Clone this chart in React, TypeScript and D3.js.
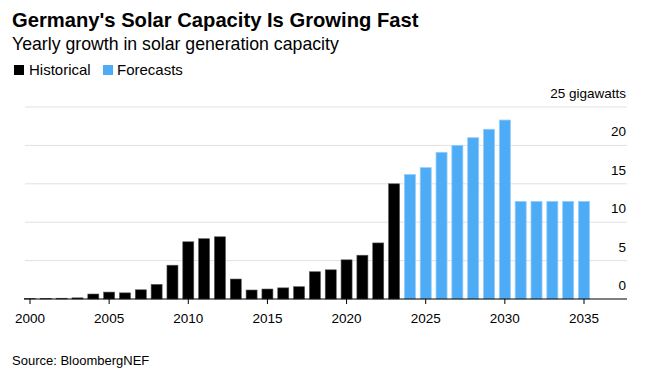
import React from "react";
import * as d3 from "d3";

const histYears = [2000,2001,2002,2003,2004,2005,2006,2007,2008,2009,2010,2011,2012,2013,2014,2015,2016,2017,2018,2019,2020,2021,2022,2023];
const histValues = [0.05,0.08,0.1,0.15,0.65,0.9,0.8,1.2,1.9,4.4,7.45,7.85,8.1,2.6,1.17,1.3,1.45,1.6,3.55,3.8,5.1,5.7,7.3,15.0];
const foreYears = [2024,2025,2026,2027,2028,2029,2030,2031,2032,2033,2034,2035];
const foreValues = [16.2,17.1,19.1,20.0,21.0,22.1,23.3,12.7,12.7,12.7,12.7,12.7];
const yTicks = [0,5,10,15,20,25];
const xTicks = [2000,2005,2010,2015,2020,2025,2030,2035];

const W = 654, H = 380;
const FONT = "'Liberation Sans', Arial, Helvetica, sans-serif";

export default function App() {
  const x = d3.scaleLinear().domain([2000, 2035]).range([30, 584]);
  const y = d3.scaleLinear().domain([0, 25]).range([299, 107]);
  const gridX0 = 25, gridX1 = 627;
  const bw = 11;
  const hist = histYears.map((yr, i) => ({ yr, v: histValues[i] }));
  const fore = foreYears.map((yr, i) => ({ yr, v: foreValues[i] }));
  return (
    <svg width={W} height={H} style={{ position: "absolute", left: 0, top: 0, background: "#fff" }} fontFamily={FONT}>
      <text x={12} y={26.5} fontSize={20.2} fontWeight="bold" fill="#000">Germany's Solar Capacity Is Growing Fast</text>
      <text x={12} y={50} fontSize={17.7} fill="#000">Yearly growth in solar generation capacity</text>
      <rect x={14} y={65} width={10} height={10} fill="#000" />
      <text x={29} y={75} fontSize={15} fill="#000">Historical</text>
      <rect x={103} y={65} width={10} height={10} fill="#4eabf6" />
      <text x={117} y={75} fontSize={15} fill="#000">Forecasts</text>
      {yTicks.map(t => (
        <g key={t}>
          {t > 0 && <line x1={gridX0} x2={gridX1} y1={y(t)} y2={y(t)} stroke="#e1e1e1" strokeWidth={1} />}
          <text x={626} y={y(t) - 9} textAnchor="end" fontSize={13.5} fill="#000">{t === 25 ? "25 gigawatts" : t}</text>
        </g>
      ))}
      {hist.map(d => (
        <rect key={d.yr} x={x(d.yr) - bw / 2} y={y(d.v)} width={bw} height={y(0) - y(d.v)} fill="#000" stroke="#555" strokeWidth={0.6} />
      ))}
      {fore.map(d => (
        <rect key={d.yr} x={x(d.yr) - bw / 2} y={y(d.v)} width={bw} height={y(0) - y(d.v)} fill="#4eabf6" stroke="#93cdfa" strokeWidth={0.8} />
      ))}
      <line x1={gridX0 - 1} x2={gridX1} y1={y(0)} y2={y(0)} stroke="#000" strokeWidth={1} />
      {xTicks.map(t => (
        <g key={t}>
          <line x1={x(t)} x2={x(t)} y1={y(0)} y2={y(0) + 5} stroke="#000" strokeWidth={1} />
          <text x={x(t)} y={322.5} textAnchor="middle" fontSize={13.5} fill="#000">{t}</text>
        </g>
      ))}
      <text x={12} y={365} fontSize={13} fill="#000">Source: BloombergNEF</text>
    </svg>
  );
}
